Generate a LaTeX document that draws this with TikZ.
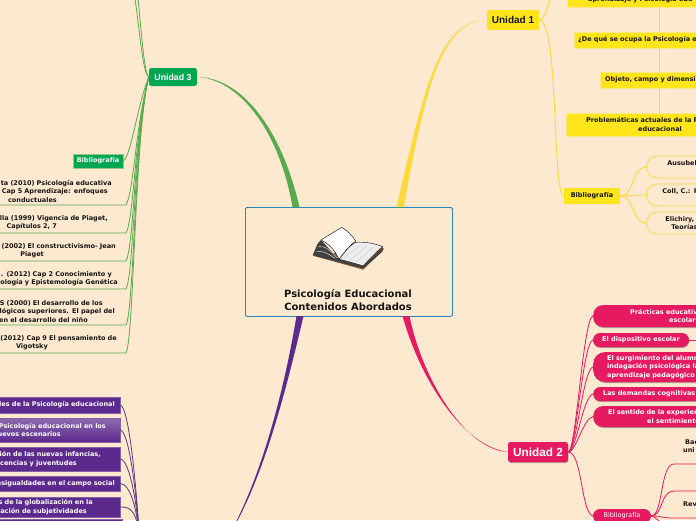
\documentclass[tikz,border=0pt]{standalone}
\usepackage{fontspec}
\setmainfont{DejaVu Sans}
\newfontfamily\unitfont{Liberation Sans}
\usepackage{tikz}
\usetikzlibrary{calc, shadows}
\definecolor{paper}{HTML}{fde8d0}
\definecolor{hubblue}{HTML}{2a86b8}
\definecolor{leafgreen}{HTML}{00a651}
\definecolor{linegreen}{HTML}{58aa4c}
\definecolor{leafyellow}{HTML}{ffe519}
\definecolor{lineyellow}{HTML}{ffd83c}
\definecolor{leafpink}{HTML}{e51a60}
\definecolor{leafpurple}{HTML}{5c2a8c}
\definecolor{linepurple}{HTML}{5c3a80}
\definecolor{inktext}{HTML}{151515}
\newcommand{\gap}[1]{\hspace*{#1}\mbox{}}
\tikzset{
  small/.style={font=\fontsize{6.5}{8.3}\selectfont\bfseries, inner sep=0pt},
  softshadow/.style={drop shadow={shadow xshift=0.3pt, shadow yshift=-1pt, fill=black, opacity=0.3}},
  unitlabel/.style={rounded corners=2.5pt},
  greenitem/.style={small, text=inktext, text width=130pt, align=right, anchor=south east, inner xsep=8pt, inner ysep=2.5pt},
  pinkleaf/.style={small, text=white, fill=leafpink, rounded corners=10pt, anchor=west, align=left, text width=130pt, inner xsep=0pt, softshadow},
  purpleleaf/.style={small, text=white, fill=leafpurple, draw=leafpurple!75!white, anchor=east, align=right, text width=135pt, inner xsep=5pt, softshadow},
  yellowleaf/.style={small, text=inktext, fill=leafyellow, draw=lineyellow!60!white, anchor=west, align=left, text width=160pt, inner xsep=0pt},
  ringleaf/.style={small, text=inktext, draw=lineyellow, thick, rounded corners=11pt, anchor=west, align=left, minimum height=22pt, text width=90pt},
  gline/.style={linegreen, line width=0.8pt},
  yline/.style={lineyellow, line width=0.9pt},
  pline/.style={leafpink, line width=0.8pt},
  uline/.style={linepurple, line width=0.8pt},
}

\begin{document}
\begin{tikzpicture}[x=1pt, y=-1pt]
    \useasboundingbox (0,0) rectangle (696,520);
    \clip (0,0) rectangle (696,520);
    \fill[paper] (0,0) rectangle (696,520);

    % --- hub ---
    \node[draw=hubblue, line width=0.8pt, fill=paper, rounded corners=1.5pt, minimum width=207pt, minimum height=109pt, anchor=north west] (hub) at (245,207) {};
    \node[font=\fontsize{10}{12.2}\selectfont\bfseries, text=inktext, align=center, inner sep=0pt] (hubtitle) at (348,300) {Psicología Educacional\\ Contenidos Abordados};

    % --- units ---
    \node[unitlabel, font=\unitfont\fontsize{8.8}{11}\selectfont\bfseries, fill=leafgreen, text=white, minimum width=48pt, minimum height=18pt] (unit3) at (173,77) {Unidad 3};
    \node[unitlabel, font=\unitfont\fontsize{10}{12}\selectfont\bfseries, fill=leafyellow, text=inktext, rounded corners=0pt, minimum width=52pt, minimum height=20pt] (unit1) at (513,20) {Unidad 1};
    \node[unitlabel, font=\unitfont\fontsize{11.8}{14}\selectfont\bfseries, fill=leafpink, text=white, minimum width=60pt, minimum height=20pt, softshadow] (unit2) at (538,452) {Unidad 2};
    \coordinate (unit4) at (140,548);
    \coordinate (unit4main) at (226,540);

    % --- thick branches to the hub ---
    \coordinate (hubgreen) at (296,207);
    \coordinate (hubyellow) at (400,207);
    \coordinate (hubpink) at (406,316);
    \coordinate (hubpurple) at (300,316);
    \fill[linegreen] (unit3.east) .. controls +(40,2) and +(-14,-80) .. ([xshift=-3.5pt]hubgreen) -- ([xshift=3.5pt]hubgreen) .. controls +(-19,-82) and +(42,0) .. (unit3.east);
    \fill[lineyellow] (unit1.west) .. controls +(-50,0) and +(26,-110) .. ([xshift=-3.5pt]hubyellow) -- ([xshift=3.5pt]hubyellow) .. controls +(21,-110) and +(-48,1) .. (unit1.west);
    \fill[leafpink] (unit2.west) .. controls +(-45,-6) and +(18,64) .. ([xshift=-3.5pt]hubpink) -- ([xshift=3.5pt]hubpink) .. controls +(13,64) and +(-42,-2) .. (unit2.west);
    \fill[leafpurple] (unit4main) .. controls +(30,-50) and +(-15,90) .. ([xshift=-3.5pt]hubpurple) -- ([xshift=3.5pt]hubpurple) .. controls +(-21,90) and +(33,-50) .. (unit4main);

    % --- unit 3 ---
    \coordinate (topgreena) at (132,-2);
    \coordinate (topgreenb) at (137,-2);
    \draw[gline] (unit3.west) .. controls +(-8,0) and +(3,-30) .. (topgreena);
    \draw[gline] (unit3.west) .. controls +(-6,0) and +(0,-30) .. (topgreenb);
    \node[small, text=white, fill=leafgreen, draw=linegreen!60!paper, line width=0.8pt, minimum width=50pt, minimum height=14pt, softshadow] (bib3) at (98,161) {Bibliografía};
    \draw[gline] (unit3.west) .. controls +(-12,30) and +(8,-6) .. (bib3.east);
    \node[greenitem] (g1) at (126,205) {ta (2010) Psicología educativa\gap{6pt}\\. Cap 5 Aprendizaje: enfoques\gap{10pt}\\conductuales\gap{61pt}};
    \node[greenitem] (g2) at (126,233) {lla (1999) Vigencia de Piaget,\gap{10pt}\\Capítulos 2, 7\gap{61pt}};
    \node[greenitem] (g3) at (126,261) {(2002) El constructivismo- Jean\gap{2pt}\\Piaget\gap{74pt}};
    \node[greenitem] (g4) at (126,289) {. (2012) Cap 2 Conocimiento y\gap{6pt}\\cología y Epistemología Genética};
    \node[greenitem] (g5) at (126,325) {S (2000) El desarrollo de los\gap{15pt}\\alógicos superiores. El papel del\gap{3pt}\\en el desarrollo del niño\gap{30pt}};
    \node[greenitem] (g6) at (126,353) {(2012) Cap 9 El pensamiento de\gap{1pt}\\Vigotsky\gap{70pt}};
    \foreach \g in {g1, g2, g3, g4, g5, g6} {
      \draw[gline] (unit3.west) .. controls +(-14,53) and +(8,-14) .. (\g.south east) -- (\g.south west);
    }

    % --- unit 1 ---
    \coordinate (topyellow) at (551,-2);
    \coordinate (treeline) at (659,0);
    \node[yellowleaf, minimum height=14pt] (y1) at (567,0) {\hspace*{21pt}aprendizaje y Psicología edu};
    \node[yellowleaf, minimum height=16pt] (y2) at (574,40) {\hspace*{4pt}¿De qué se ocupa la Psicología e};
    \node[yellowleaf, minimum height=16pt] (y3) at (600,80) {\hspace*{5pt}Objeto, campo y dimensi};
    \node[yellowleaf, minimum height=23pt] (y4) at (566,124.5) {\hspace*{20pt}Problemáticas actuales de la P\\\hspace*{72pt}educacional};
    \draw[yline, line width=0.6pt] (y1.south -| treeline) -- (y2.north -| treeline);
    \draw[yline, line width=0.6pt] (y2.south -| treeline) -- (y3.north -| treeline);
    \draw[yline, line width=0.6pt] (y3.south -| treeline) -- (y4.north -| treeline);
    \draw[yline] (unit1.east) .. controls +(6,0) and +(-4,8) .. (topyellow);
    \node[small, text=inktext, fill=leafyellow, minimum width=56pt, minimum height=16pt] (bib1) at (592,196) {Bibliografía};
    \draw[yline] (unit1.east) .. controls +(20,0) and +(-12,-2) .. (bib1.west);
    \node[ringleaf] (r1) at (646,167) {\hspace*{21pt}Ausubel\\~};
    \node[ringleaf] (r2) at (646,195) {\hspace*{16pt}Coll, C.: P\\~};
    \node[ringleaf] (r3) at (646,223) {\hspace*{19pt}Elichiry,\\\hspace*{25pt}Teorías};
    \foreach \r in {r1, r2, r3} {
      \draw[yline] (bib1.east) .. controls +(14,0) and +(-14,0) .. (\r.west);
    }

    % --- unit 2 ---
    \node[pinkleaf, minimum height=22pt] (p1) at (593,316) {\hspace*{37pt}Prácticas educativ\\\hspace*{76pt}escolar};
    \node[small, text=white, fill=leafpink, rounded corners=7pt, minimum width=96pt, minimum height=14pt, softshadow] (p2) at (641,340) {El dispositivo escolar};
    \node[pinkleaf, minimum height=30pt, rounded corners=12pt] (p3) at (593,367) {\hspace*{14pt}El surgimiento del alumn\\\hspace*{14pt}indagación psicológica la\\\hspace*{14pt}aprendizaje pedagógico};
    \node[pinkleaf, minimum height=14pt, rounded corners=7pt] (p4) at (593,394) {\hspace*{10pt}Las demandas cognitivas};
    \node[pinkleaf, minimum height=21pt] (p5) at (593,416.5) {\hspace*{15pt}El sentido de la experien\\\hspace*{54pt}el sentimiento};
    \coordinate (rightpink) at (698,340);
    \draw[pline] (p2.east) -- (rightpink);
    \foreach \p in {p1, p2, p3, p4, p5} {
      \draw[pline] (unit2.east) .. controls +(8,0) and +(-10,2) .. (\p.west);
    }
    \node[font=\fontsize{6.5}{8.3}\selectfont, text=white, fill=leafpink, rounded corners=7pt, minimum width=58pt, minimum height=14pt, inner sep=0pt] (bib2) at (622,516) {Bibliografía};
    \draw[pline] (unit2.east) .. controls +(14,0) and +(-12,-4) .. (bib2.west);
    \node[small, text=inktext, text width=30pt, align=left, anchor=south west, inner ysep=11pt] (q1) at (674,464) {\hspace*{11pt}Bac\\\hspace*{9pt}uni};
    \node[small, text width=30pt, anchor=south west, minimum height=10pt] (q2) at (674,491) {};
    \node[small, text=inktext, text width=30pt, align=left, anchor=south west, inner ysep=11pt] (q3) at (674,518) {\hspace*{9pt}Rev};
    \coordinate (q4) at (672,532);
    \foreach \q in {q1, q2, q3} {
      \draw[pline] (bib2.east) .. controls +(12,0) and +(-14,0) .. (\q.south west) -- (\q.south east);
    }
    \draw[pline] (bib2.east) .. controls +(4,0) and +(-6,-4) .. (q4);

    % --- unit 4 ---
    \node[purpleleaf, minimum height=16pt] (u1) at (120,405) {les de la Psicología educacional};
    \node[purpleleaf, minimum height=24pt, top color=leafpurple!70!white, bottom color=leafpurple] (u2) at (120,430) {Psicología educacional en los\gap{9pt}\\uevos escenarios\gap{54pt}};
    \node[purpleleaf, minimum height=24pt] (u3) at (120,459) {ción de las nuevas infancias,\gap{14pt}\\scencias y juventudes\gap{38pt}};
    \node[purpleleaf, minimum height=15pt] (u4) at (120,483.5) {esigualdades en el campo social};
    \node[purpleleaf, minimum height=20pt] (u5) at (120,507) {s de la globalización en la\gap{22pt}\\ación de subjetividades\gap{28pt}};
    \node[purpleleaf, minimum height=20pt] (u6) at (122,529) {};
    \foreach \u in {u1, u2, u3, u4, u5, u6} {
      \draw[uline] (\u.east) .. controls +(10,0) and +(-2,-40) .. (unit4);
    }

    % --- book ---
    \begin{scope}[shift={(235,195)}, x=0.3333pt, y=-0.3333pt]
      \fill[brown!70!black] (233,182) -- (385,224) -- (447,162) -- (440,156) -- cycle;
      \fill[black!75] (233,181) -- (248,146) -- (258,135) -- (312,194) -- (385,214) -- (445,158) -- (442,170) -- (385,220) -- cycle;
      \draw[white!85!black, line width=0.5pt] (245,170) .. controls (265,165) and (285,180) .. (300,190);
      \draw[white!85!black, line width=0.5pt] (250,155) .. controls (270,150) and (290,170) .. (305,188);
      \filldraw[fill=white, draw=black, line width=0.4pt] (258,135) -- (320,97) .. controls (335,105) and (352,122) .. (362,138) .. controls (345,150) and (325,175) .. (312,193) .. controls (300,165) and (280,145) .. (258,135) -- cycle;
      \filldraw[fill=black!7, draw=black, line width=0.4pt] (312,193) .. controls (330,170) and (345,150) .. (362,142) .. controls (390,140) and (420,145) .. (443,155) .. controls (425,170) and (400,195) .. (385,213) .. controls (360,205) and (335,198) .. (312,193) -- cycle;
      \draw[black!20, line width=0.4pt] (325,190) -- (375,150) (345,195) -- (395,153) (365,200) -- (415,157);
    \end{scope}
\end{tikzpicture}
\end{document}
